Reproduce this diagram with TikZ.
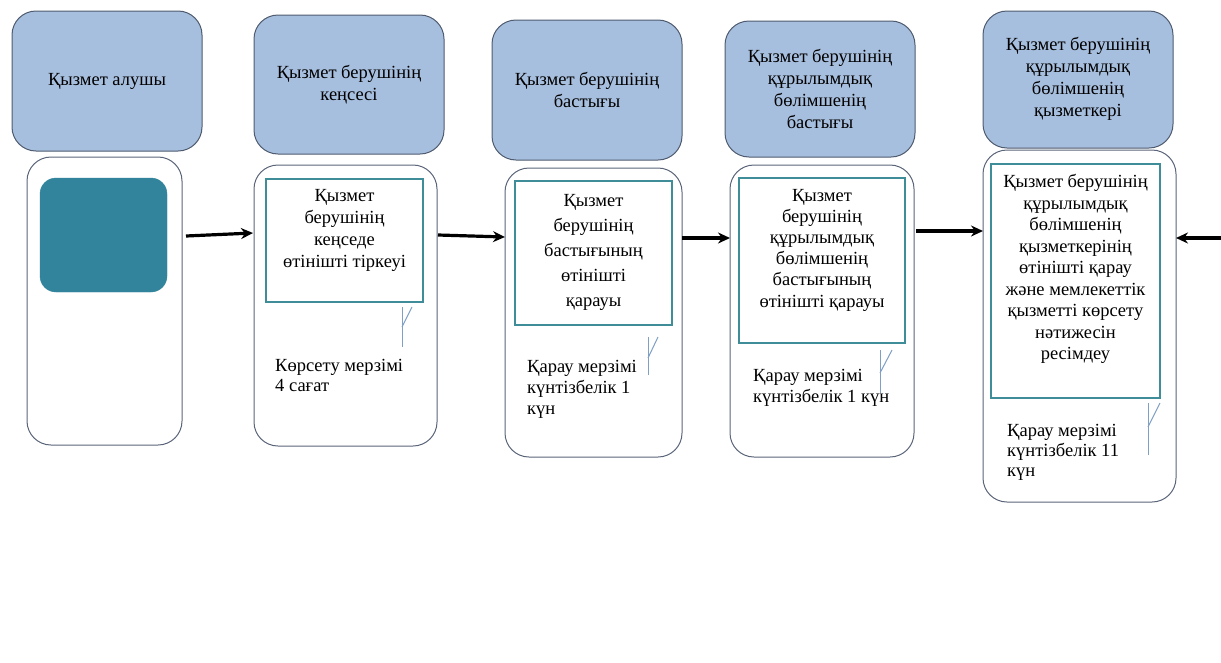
\documentclass[tikz,border=0pt]{standalone}
\usepackage{fontspec}
\setmainfont{Liberation Serif}
\usetikzlibrary{arrows.meta}
\definecolor{hdrfill}{HTML}{A7BFDE}
\definecolor{hdrline}{HTML}{4F5B6E}
\definecolor{boxline}{HTML}{5B6579}
\definecolor{tealline}{HTML}{3E8D98}
\definecolor{tealfill}{HTML}{31849B}
\definecolor{flagline}{HTML}{7F9FC4}
\tikzset{
  hdr/.style={draw=hdrline, line width=1pt, fill=hdrfill, rounded corners=24pt, inner sep=0pt},
  lane/.style={draw=boxline, line width=1pt, fill=white, rounded corners=24pt, inner sep=0pt},
  inner/.style={draw=tealline, line width=2.5pt, inner sep=0pt},
  txt/.style={font=\fontsize{18.5}{22}\selectfont, align=center, inner sep=0pt},
  ltxt/.style={font=\fontsize{18.5}{20}\selectfont, align=left, inner sep=0pt, anchor=west},
  flow/.style={draw=black, line width=3.2pt, -{Stealth[length=12pt,width=11pt]}},
  flag/.style={draw=flagline, line width=1pt}
}
\begin{document}
\begin{tikzpicture}[x=1pt,y=-1pt]
\useasboundingbox (0,0) rectangle (1221,662);
% headers
\node[hdr, minimum width=190pt, minimum height=140pt] (h1) at (107,81) {};
\node[hdr, minimum width=190pt, minimum height=139pt] (h2) at (349,84.5) {};
\node[hdr, minimum width=190pt, minimum height=140pt] (h3) at (587,90) {};
\node[hdr, minimum width=190pt, minimum height=136pt] (h4) at (820,89) {};
\node[hdr, minimum width=190pt, minimum height=137pt] (h5) at (1078,79.5) {};
\node[txt] (t1) at (107,81) {Қызмет алушы};
\node[txt] (t2) at (349,85) {Қызмет берушінің\\кеңсесі};
\node[txt] (t3) at (587,90) {Қызмет берушінің\\бастығы};
\node[txt] (t4) at (820,89) {Қызмет берушінің\\құрылымдық\\бөлімшенің\\бастығы};
\node[txt] (t5) at (1078,79) {Қызмет берушінің\\құрылымдық\\бөлімшенің\\қызметкері};
% lanes
\node[lane, minimum width=155pt, minimum height=288pt] (l1) at (104.5,301) {};
\node[lane, minimum width=183pt, minimum height=281pt] (l2) at (345.5,305.5) {};
\node[lane, minimum width=177pt, minimum height=289pt] (l3) at (593.5,312.5) {};
\node[lane, minimum width=184pt, minimum height=292pt] (l4) at (822,311) {};
\node[lane, minimum width=193pt, minimum height=352pt] (l5) at (1079.5,326) {};
% lane 1 filled block
\node[draw=tealfill, fill=tealfill, rounded corners=16pt, minimum width=127pt, minimum height=114pt, inner sep=0pt] (s1) at (103.5,235) {};
% inner rectangles
\node[inner, minimum width=157pt, minimum height=123pt] (r2) at (344.5,240.5) {};
\node[inner, minimum width=157pt, minimum height=144pt] (r3) at (593.5,253) {};
\node[inner, minimum width=166pt, minimum height=165pt] (r4) at (822,260.5) {};
\node[inner, minimum width=169pt, minimum height=234pt] (r5) at (1075.5,281) {};
\node[txt] (c2) at (344.5,230.5) {Қызмет\\берушінің\\кеңседе\\өтінішті тіркеуі};
\node[txt, font=\fontsize{18.5}{25}\selectfont] (c3) at (593.5,252) {Қызмет\\берушінің\\бастығының\\өтінішті\\қарауы};
\node[txt, font=\fontsize{18.5}{21.2}\selectfont] (c4) at (822,250) {Қызмет\\берушінің\\құрылымдық\\бөлімшенің\\бастығының\\өтінішті қарауы};
\node[txt, font=\fontsize{18.5}{21.5}\selectfont] (c5) at (1075.5,269) {Қызмет берушінің\\құрылымдық\\бөлімшенің\\қызметкерінің\\өтінішті қарау\\және мемлекеттік\\қызметті көрсету\\нәтижесін\\ресімдеу};
% terms
\node[ltxt] (d2) at (275,375) {Көрсету мерзімі\\4 сағат};
\node[ltxt, font=\fontsize{18.5}{21}\selectfont] (d3) at (527,389) {Қарау мерзімі\\күнтізбелік 1\\күн};
\node[ltxt, font=\fontsize{18.5}{21}\selectfont] (d4) at (753,387.5) {Қарау мерзімі\\күнтізбелік 1 күн};
\node[ltxt] (d5) at (1007,452) {Қарау мерзімі\\күнтізбелік 11\\күн};
% flags
\coordinate (f2a) at (402,307); \coordinate (f2b) at (402,347); \coordinate (f2c) at (412,307); \coordinate (f2d) at (402,327);
\coordinate (f3a) at (648,337); \coordinate (f3b) at (648,375); \coordinate (f3c) at (658,337); \coordinate (f3d) at (648,358);
\coordinate (f4a) at (880,350); \coordinate (f4b) at (880,393); \coordinate (f4c) at (892,350); \coordinate (f4d) at (880,373);
\coordinate (f5a) at (1148,403); \coordinate (f5b) at (1148,455); \coordinate (f5c) at (1160,403); \coordinate (f5d) at (1148,427);
\foreach \i in {2,3,4,5}{
  \draw[flag] (f\i a) -- (f\i b);
  \draw[flag] (f\i c) -- (f\i d);
}
% arrows
\coordinate (a1s) at (186,236); \coordinate (a1e) at (253,233);
\coordinate (a2s) at (438,235); \coordinate (a2e) at (505,237);
\coordinate (a3s) at (682,238); \coordinate (a3e) at (730,238);
\coordinate (a4s) at (916,231); \coordinate (a4e) at (983,231);
\coordinate (a5s) at (1221,238); \coordinate (a5e) at (1176,238);
\draw[flow] (a1s) -- (a1e);
\draw[flow] (a2s) -- (a2e);
\draw[flow] (a3s) -- (a3e);
\draw[flow] (a4s) -- (a4e);
\draw[flow] (a5s) -- (a5e);
\end{tikzpicture}
\end{document}
